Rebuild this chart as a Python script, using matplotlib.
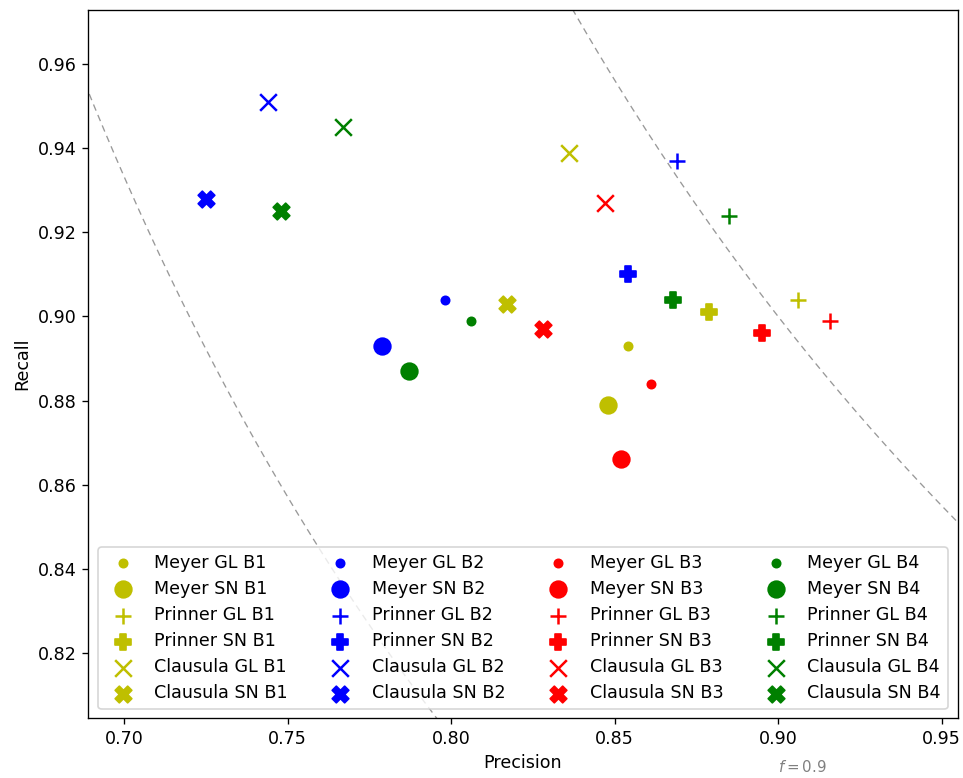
import numpy as np
import matplotlib
matplotlib.use("Agg")
import matplotlib.pyplot as plt

plt.rcParams["font.size"] = 10.5

batches = ["B1", "B2", "B3", "B4"]
colors = ["y", "b", "r", "g"]

# (name, marker) per series, values listed per batch B1..B4
series = ["Meyer GL", "Meyer SN", "Prinner GL", "Prinner SN", "Clausula GL", "Clausula SN"]
markers = [".", "o", "+", "P", "x", "X"]

precision = {
    "Meyer GL":    [0.854, 0.798, 0.861, 0.806],
    "Meyer SN":    [0.848, 0.779, 0.852, 0.787],
    "Prinner GL":  [0.906, 0.869, 0.916, 0.885],
    "Prinner SN":  [0.879, 0.854, 0.895, 0.868],
    "Clausula GL": [0.836, 0.744, 0.847, 0.767],
    "Clausula SN": [0.817, 0.725, 0.828, 0.748],
}
recall = {
    "Meyer GL":    [0.893, 0.904, 0.884, 0.899],
    "Meyer SN":    [0.879, 0.893, 0.866, 0.887],
    "Prinner GL":  [0.904, 0.937, 0.899, 0.924],
    "Prinner SN":  [0.901, 0.910, 0.896, 0.904],
    "Clausula GL": [0.939, 0.951, 0.927, 0.945],
    "Clausula SN": [0.903, 0.928, 0.897, 0.925],
}

f_scores = [0.8, 0.9]

fig = plt.figure(figsize=(963 / 120, 778 / 120), dpi=120)
ax = fig.add_axes([88 / 963, 1 - 718 / 778, 870 / 963, 708 / 778])

# iso-F curves
for f in f_scores:
    x = np.linspace(0.01, 1, 600)
    y = f * x / (2 * x - f)
    ok = (2 * x - f) > 0
    ax.plot(x[ok], y[ok], color="gray", linestyle=(0, (5, 3.5)), linewidth=0.8, alpha=0.8)

for bi, b in enumerate(batches):
    for name, m in zip(series, markers):
        ax.scatter(precision[name][bi], recall[name][bi], marker=m, s=100,
                   color=colors[bi], label=f"{name} {b}")

ax.text(0.9, 0.7928, "$f=0.9$", color="gray", fontsize=9, va="center", clip_on=False)

ax.set_xlim(0.689, 0.955)
ax.set_ylim(0.8045, 0.9729)
ax.set_xlabel("Precision")
ax.set_ylabel("Recall")
ax.legend(loc="lower center", ncol=4, labelspacing=0.46)

fig.savefig("out.png", dpi=120)
